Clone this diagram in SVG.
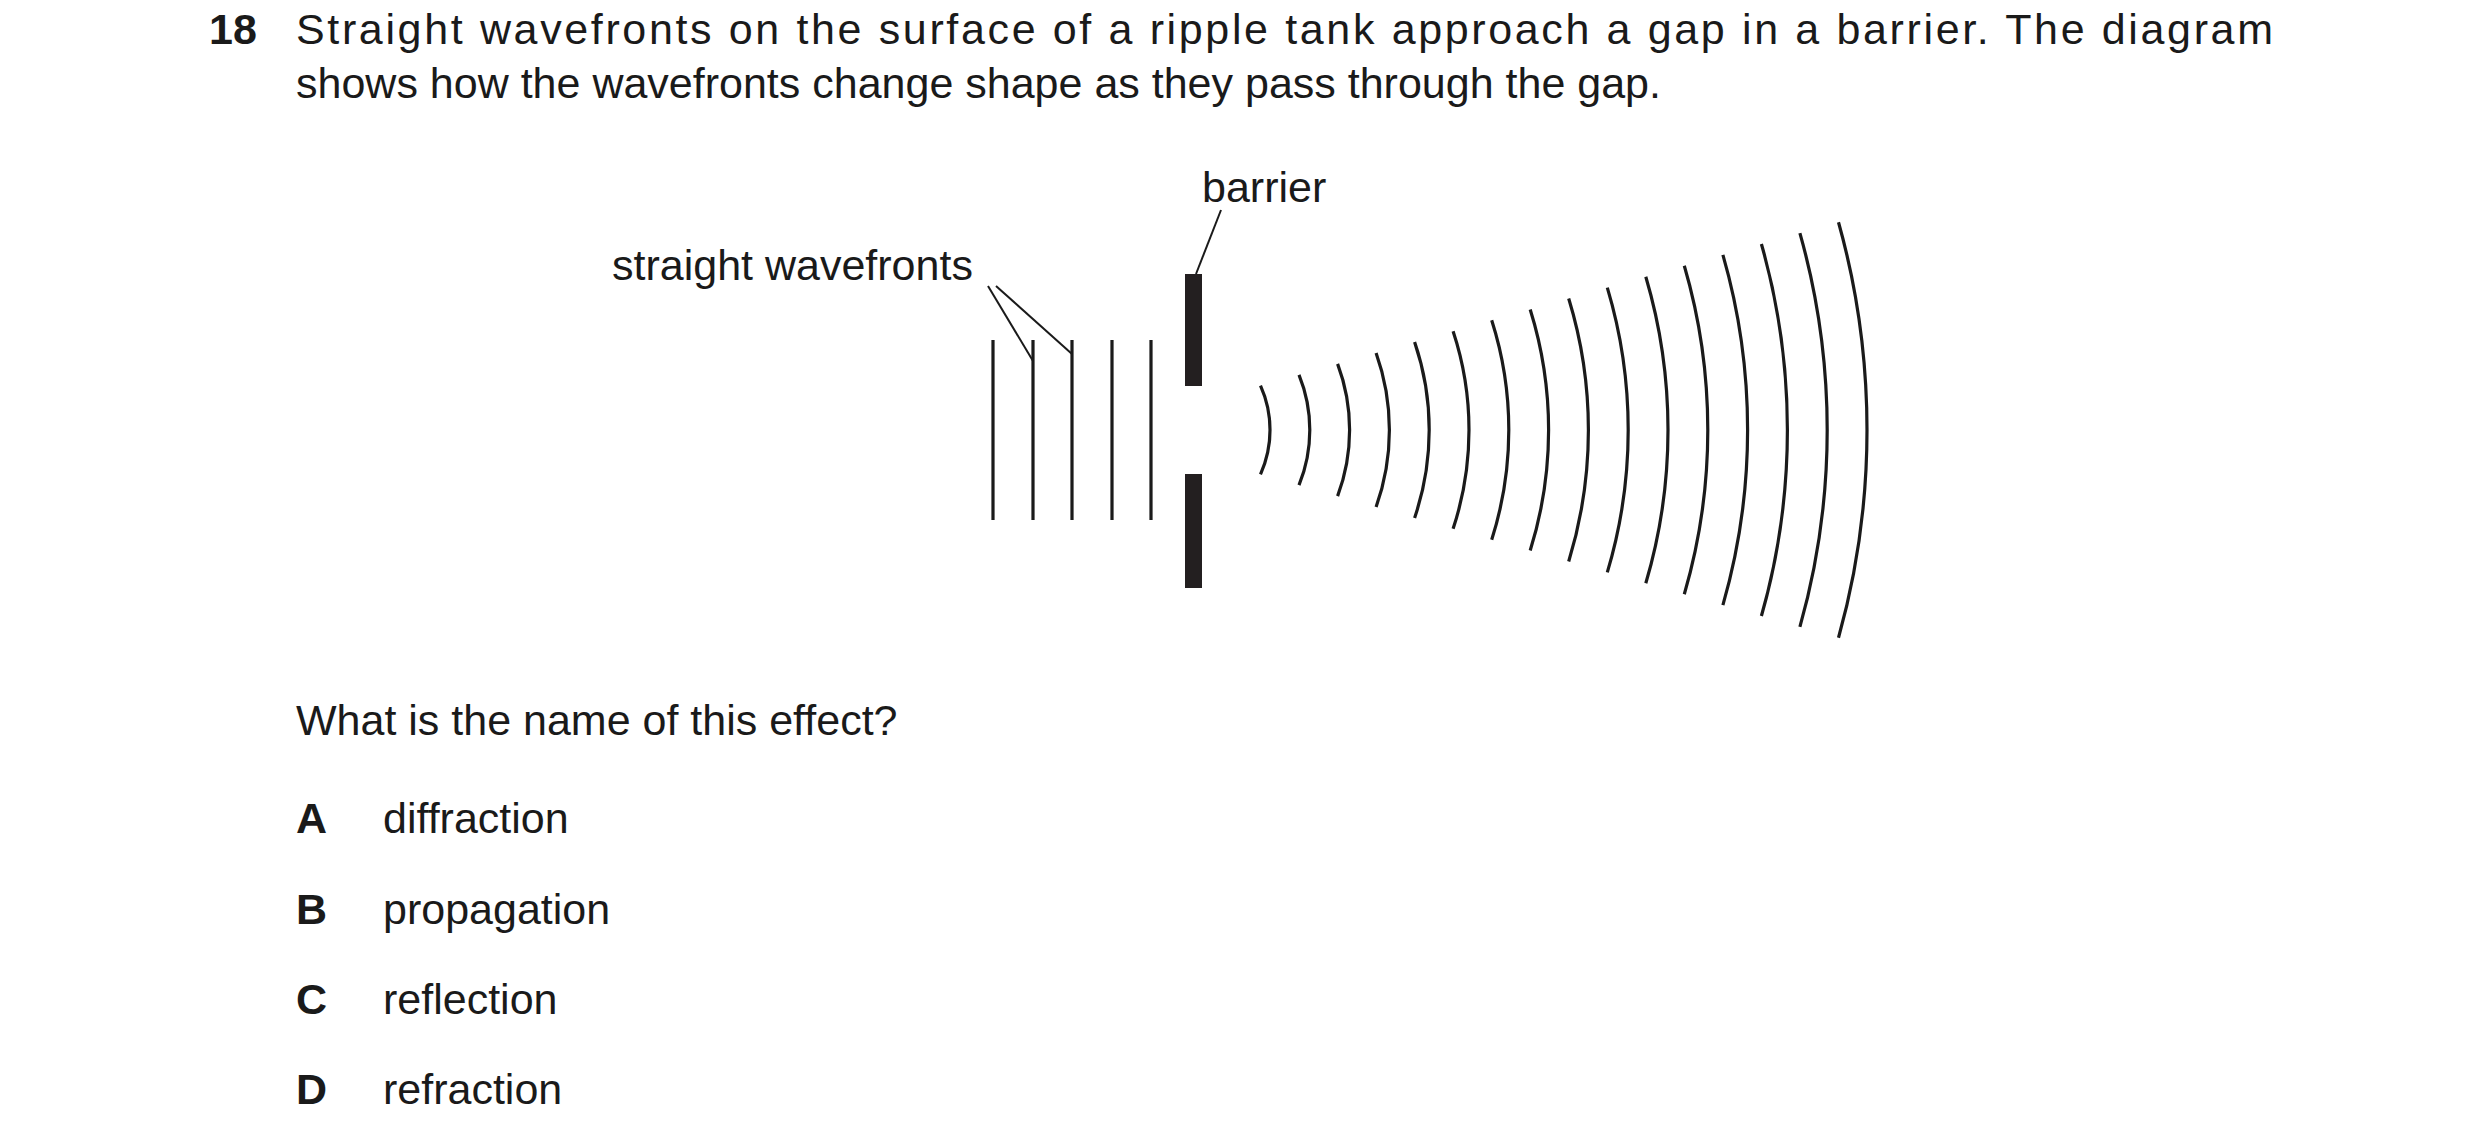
<svg xmlns="http://www.w3.org/2000/svg" width="2480" height="1145" viewBox="0 0 2480 1145">
<style>
text{font-family:"Liberation Sans",Arial,sans-serif;font-size:43px;fill:#1a1a1a}
.b{font-weight:bold}
.w{fill:none;stroke:#1a1a1a;stroke-width:3.2}
.l{fill:none;stroke:#1a1a1a;stroke-width:2}
</style>
<rect width="2480" height="1145" fill="#fff"/>
<g id="question">
<text class="b" x="209" y="44">18</text>
<text x="296" y="44" textLength="1977" lengthAdjust="spacing">Straight wavefronts on the surface of a ripple tank approach a gap in a barrier. The diagram</text>
<text x="296" y="98">shows how the wavefronts change shape as they pass through the gap.</text>
<text x="296" y="735">What is the name of this effect?</text>
<text class="b" x="296" y="833">A</text><text x="383" y="833">diffraction</text>
<text class="b" x="296" y="924">B</text><text x="383" y="924">propagation</text>
<text class="b" x="296" y="1014">C</text><text x="383" y="1014">reflection</text>
<text class="b" x="296" y="1104">D</text><text x="383" y="1104">refraction</text>
</g>
<g id="straight-wavefronts">
<path class="w" d="M993 340V520M1033 340V520M1072 340V520M1112 340V520M1151 340V520"/>
<text x="612" y="280">straight wavefronts</text>
</g>
<g id="barrier">
<rect x="1185" y="274" width="17" height="112" fill="#231f20"/>
<rect x="1185" y="474" width="17" height="114" fill="#231f20"/>
<text x="1202" y="202">barrier</text>
</g>
<g id="circular-wavefronts" class="w">
<path d="M1260.5 385.7A108 108 0 0 1 1260.5 474.3"/>
<path d="M1299 374.8A146.5 146.5 0 0 1 1299 485.2"/>
<path d="M1337.6 363.9A188 188 0 0 1 1337.6 496.1"/>
<path d="M1376.1 353A229.5 229.5 0 0 1 1376.1 507"/>
<path d="M1414.6 342.1A271.9 271.9 0 0 1 1414.6 517.9"/>
<path d="M1453.1 331.2A314.9 314.9 0 0 1 1453.1 528.8"/>
<path d="M1491.7 320.3A360.4 360.4 0 0 1 1491.7 539.7"/>
<path d="M1530.2 309.4A404.4 404.4 0 0 1 1530.2 550.6"/>
<path d="M1568.7 298.5A448.7 448.7 0 0 1 1568.7 561.5"/>
<path d="M1607.3 287.6A495.6 495.6 0 0 1 1607.3 572.4"/>
<path d="M1645.8 276.7A540.4 540.4 0 0 1 1645.8 583.3"/>
<path d="M1684.3 265.8A585.4 585.4 0 0 1 1684.3 594.2"/>
<path d="M1722.9 254.9A633 633 0 0 1 1722.9 605.1"/>
<path d="M1761.4 244A678.3 678.3 0 0 1 1761.4 616"/>
<path d="M1799.9 233.1A723.7 723.7 0 0 1 1799.9 626.9"/>
<path d="M1838.5 222.2A771.8 771.8 0 0 1 1838.5 637.8"/>
</g>
<g id="connectors" class="l">
<path d="M1221 210L1196 274"/>
<path d="M988 286L1033 361"/>
<path d="M996 286L1072 354"/>
</g>
</svg>
